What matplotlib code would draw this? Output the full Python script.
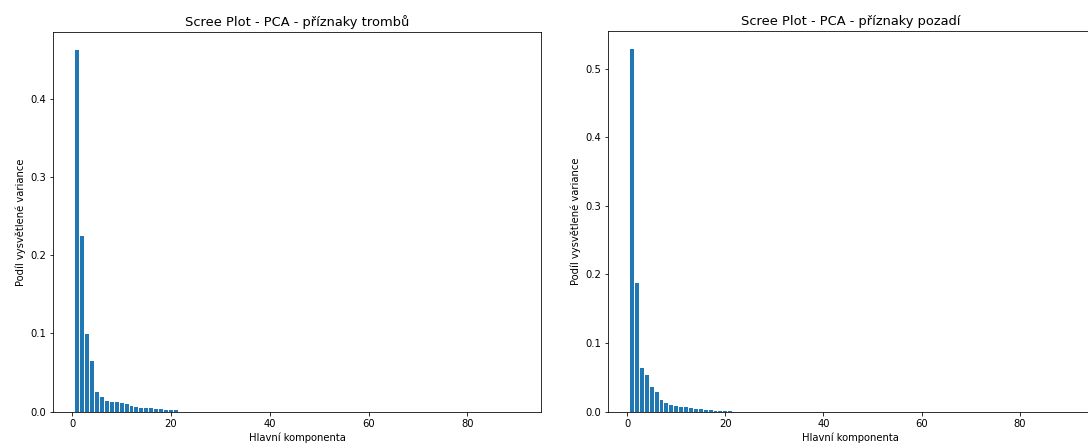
import numpy as np
import matplotlib
matplotlib.use("Agg")
import matplotlib.pyplot as plt

# Podíl vysvětlené variance pro jednotlivé hlavní komponenty (90 komponent)
var_tromby = [0.462, 0.224, 0.099, 0.065, 0.025, 0.019, 0.0137, 0.0124, 0.0124, 0.0111,
              0.0094, 0.0073, 0.0064, 0.0051, 0.005, 0.005, 0.0035, 0.0034, 0.0028, 0.0024,
              0.002, 0.0, 0.0, 0.0, 0.0, 0.0, 0.0, 0.0, 0.0, 0.0,
              0.0, 0.0, 0.0, 0.0, 0.0, 0.0, 0.0, 0.0, 0.0, 0.0,
              0.0, 0.0, 0.0, 0.0, 0.0, 0.0, 0.0, 0.0, 0.0, 0.0,
              0.0, 0.0, 0.0, 0.0, 0.0, 0.0, 0.0, 0.0, 0.0, 0.0,
              0.0, 0.0, 0.0, 0.0, 0.0, 0.0, 0.0, 0.0, 0.0, 0.0,
              0.0, 0.0, 0.0, 0.0, 0.0, 0.0, 0.0, 0.0, 0.0, 0.0,
              0.0, 0.0, 0.0, 0.0, 0.0, 0.0, 0.0, 0.0, 0.0, 0.0]

var_pozadi = [0.528, 0.187, 0.0642, 0.054, 0.036, 0.029, 0.017, 0.013, 0.010, 0.009,
              0.007, 0.007, 0.005, 0.0045, 0.004, 0.003, 0.0025, 0.0015, 0.0015, 0.0015,
              0.001, 0.0, 0.0, 0.0, 0.0, 0.0, 0.0, 0.0, 0.0, 0.0,
              0.0, 0.0, 0.0, 0.0, 0.0, 0.0, 0.0, 0.0, 0.0, 0.0,
              0.0, 0.0, 0.0, 0.0, 0.0, 0.0, 0.0, 0.0, 0.0, 0.0,
              0.0, 0.0, 0.0, 0.0, 0.0, 0.0, 0.0, 0.0, 0.0, 0.0,
              0.0, 0.0, 0.0, 0.0, 0.0, 0.0, 0.0, 0.0, 0.0, 0.0,
              0.0, 0.0, 0.0, 0.0, 0.0, 0.0, 0.0, 0.0, 0.0, 0.0,
              0.0, 0.0, 0.0, 0.0, 0.0, 0.0, 0.0, 0.0, 0.0, 0.0]

titulky = ["Scree Plot - PCA - příznaky trombů", "Scree Plot - PCA - příznaky pozadí"]

fig = plt.figure(figsize=(1088 / 72, 448 / 72), dpi=72)
ax1 = fig.add_axes([53 / 1088, 36.3 / 448, 488 / 1088, 379.7 / 448])
ax2 = fig.add_axes([608 / 1088, 36.3 / 448, 485 / 1088, 380.4 / 448])

for ax, var, titulek in zip([ax1, ax2], [var_tromby, var_pozadi], titulky):
    komponenty = np.arange(1, len(var) + 1)
    ax.bar(komponenty, var)
    ax.set_title(titulek, fontsize=13)
    ax.set_xlabel("Hlavní komponenta")
    ax.set_ylabel("Podíl vysvětlené variance")

fig.savefig("out.png", dpi=72)
